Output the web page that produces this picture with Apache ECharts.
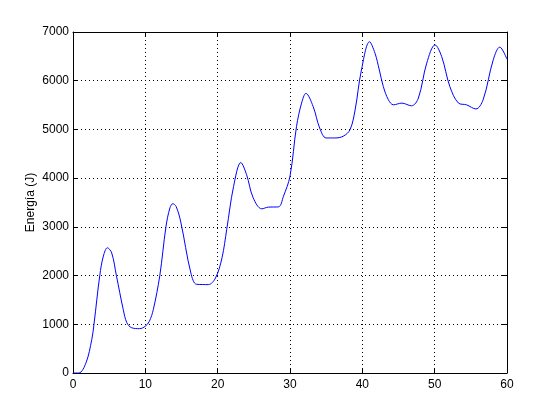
<!DOCTYPE html>
<html>
<head>
<meta charset="utf-8">
<script src="https://cdn.jsdelivr.net/npm/echarts@6/dist/echarts.min.js"></script>
<style>
  html, body { margin: 0; padding: 0; background: #fff; }
  #chart { width: 560px; height: 420px; }
</style>
</head>
<body>
<div id="chart"></div>
<script>
// tiempo (s) y energía (J)
const tiempo = [
  0, 0.8, 1.8, 2.6, 2.9, 3.7, 4.2, 4.75, 5.35, 6.0, 6.95, 7.45, 8.1, 9.2, 10.0,
  10.55, 11.1, 12.0, 12.85, 13.4, 13.8, 14.25, 14.9, 16.3, 17.1, 18.7, 19.7, 20.6,
  21.25, 22.2, 23.2, 24.0, 24.9, 26.1, 27.0, 28.4, 29.1, 30.0, 30.9, 31.6, 32.2,
  33.2, 34.1, 35.0, 36.2, 37.35, 38.3, 39.0, 39.85, 41.0, 41.75, 42.35, 42.9, 43.6,
  44.3, 45.45, 46.8, 47.75, 48.9, 50.05, 50.97, 52.1, 53.3, 54.4, 55.7, 56.7, 58.1,
  59.0, 60.0
]
const energia = [
  0, 0, 210, 690, 1000, 2000, 2400, 2570, 2465, 2000, 1300, 1030, 930, 910, 960,
  1060, 1300, 2000, 3000, 3390, 3475, 3420, 3100, 2050, 1820, 1815, 1950, 2365,
  2945, 3830, 4320, 4070, 3600, 3370, 3405, 3410, 3630, 4040, 5060, 5540, 5740,
  5470, 5030, 4825, 4825, 4860, 4995, 5400, 6200, 6800, 6565, 6220, 5880, 5610,
  5505, 5540, 5485, 5645, 6360, 6735, 6495, 5880, 5540, 5505, 5420, 5610, 6430,
  6690, 6440
]
const yLabel = 'Energía (J)'

const font = '"Liberation Sans", Arial, sans-serif'

const baseAxis = {
  axisLine: { show: true, onZero: false, lineStyle: { color: '#000', width: 1 } },
  axisTick: { show: true, inside: true, length: 5, lineStyle: { color: '#000' } },
  splitLine: { show: false },
  axisLabel: { color: '#000', fontSize: 12, fontFamily: font, formatter: v => String(v) }
}

echarts.init(document.getElementById('chart'), null, { renderer: 'canvas' }).setOption({
  backgroundColor: '#fff',
  animation: false,
  grid: { left: 73, right: 53, top: 32, bottom: 47 },
  xAxis: [{
    ...baseAxis,
    type: 'value',
    min: 0, max: 60, interval: 10,
    axisLabel: { ...baseAxis.axisLabel, margin: 6 },
    splitLine: { show: true, lineStyle: { color: '#000', type: [1, 3], width: 1 } }
  }, {
    ...baseAxis,
    type: 'value',
    position: 'top',
    min: 0, max: 60, interval: 10,
    axisLabel: { show: false }
  }],
  yAxis: [{
    ...baseAxis,
    type: 'value',
    min: 0, max: 7000, interval: 1000,
    name: yLabel,
    nameLocation: 'middle',
    nameGap: 36,
    nameMoveOverlap: false,
    nameTextStyle: { color: '#000', fontSize: 12, fontFamily: font },
    axisLabel: { ...baseAxis.axisLabel, margin: 4 },
    splitLine: { show: true, lineStyle: { color: '#000', type: [1, 3], width: 1 } }
  }, {
    ...baseAxis,
    type: 'value',
    position: 'right',
    min: 0, max: 7000, interval: 1000,
    axisLabel: { show: false }
  }],
  series: [{
    type: 'line',
    data: tiempo.map((t, i) => [t, energia[i]]),
    smooth: 0.35,
    showSymbol: false,
    lineStyle: { color: '#0000ff', width: 1 }
  }]
})
</script>
</body>
</html>
